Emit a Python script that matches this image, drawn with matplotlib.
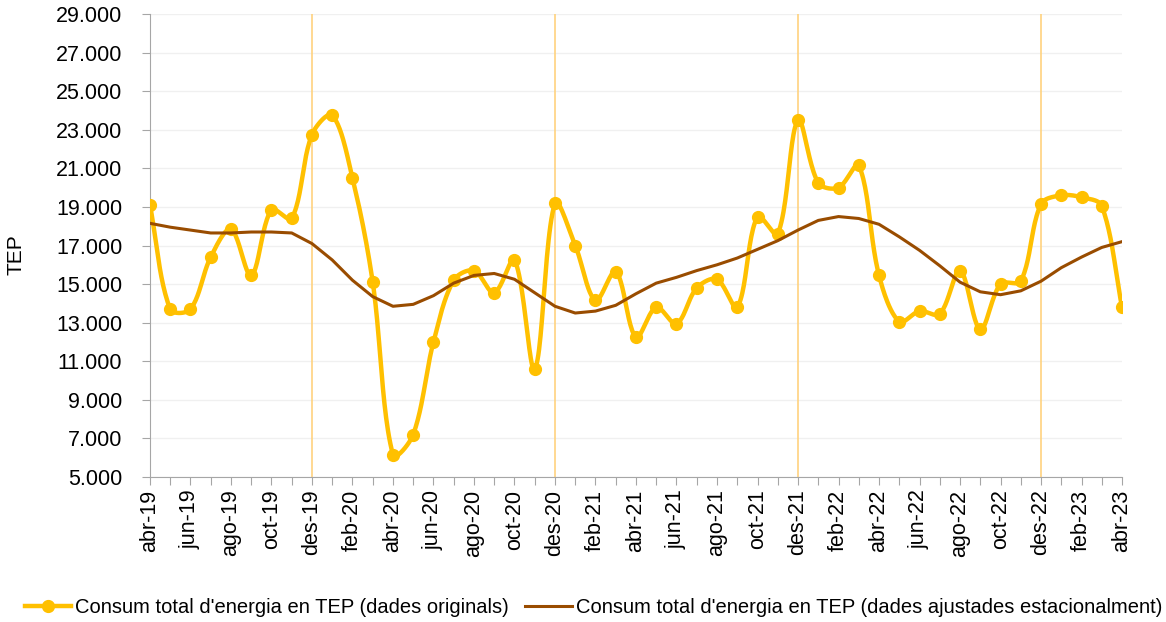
import numpy as np
import matplotlib
matplotlib.use("Agg")
import matplotlib.pyplot as plt
from matplotlib.ticker import FuncFormatter

plt.rcParams['font.family'] = ['Liberation Sans', 'DejaVu Sans']

# month labels abr-19 .. abr-23
mesos = ['gen', 'feb', 'mar', 'abr', 'mai', 'jun', 'jul', 'ago', 'set', 'oct', 'nov', 'des']
labels = []
for k in range(49):
    m = (3 + k) % 12
    y = 19 + (3 + k) // 12
    labels.append(f"{mesos[m]}-{y}")

originals = [19100, 13700, 13700, 16400, 17850, 15450, 18850, 18400, 22750, 23750,
             20500, 15100, 6150, 7200, 12000, 15200, 15700, 14550, 16250, 10600,
             19200, 17000, 14150, 15650, 12250, 13800, 12950, 14800, 15250, 13800,
             18500, 17600, 23500, 20250, 20000, 21150, 15450, 13050, 13600, 13450,
             15700, 12650, 15000, 15150, 19150, 19600, 19500, 19050, 13800]

ajustades = [18150, 17950, 17800, 17650, 17650, 17700, 17700, 17650, 17100, 16250,
             15200, 14350, 13850, 13950, 14400, 15050, 15450, 15550, 15250, 14550,
             13850, 13500, 13600, 13900, 14500, 15050, 15350, 15700, 16000, 16350,
             16800, 17250, 17800, 18300, 18500, 18400, 18100, 17450, 16750, 15950,
             15100, 14600, 14450, 14650, 15150, 15850, 16400, 16900, 17200]

yellow = '#FFC000'
brown = '#994C00'


def smooth(xs, ys, sx=20.25, sy=463 / 24000, n=24):
    # Bezier smoothing with control points weighted by screen-space segment length
    xs = np.asarray(xs, float)
    ys = np.asarray(ys, float)
    px = np.concatenate([[xs[0]], xs, [xs[-1]]])
    py = np.concatenate([[ys[0]], ys, [ys[-1]]])
    d = np.hypot(np.diff(px) * sx, np.diff(py) * sy)
    d[d == 0] = 1e-9
    outx, outy = [], []
    t = np.linspace(0, 1, n, endpoint=False)
    k = 1 / 3
    for i in range(1, len(px) - 2):
        d01, d12, d23 = d[i - 1], d[i], d[i + 1]
        f1 = k * d12 / (d01 + d12)
        f2 = k * d12 / (d12 + d23)
        c1x = px[i] + (px[i + 1] - px[i - 1]) * f1
        c1y = py[i] + (py[i + 1] - py[i - 1]) * f1
        c2x = px[i + 1] - (px[i + 2] - px[i]) * f2
        c2y = py[i + 1] - (py[i + 2] - py[i]) * f2
        b0 = (1 - t) ** 3
        b1 = 3 * (1 - t) ** 2 * t
        b2 = 3 * (1 - t) * t ** 2
        b3 = t ** 3
        outx.extend(b0 * px[i] + b1 * c1x + b2 * c2x + b3 * px[i + 1])
        outy.extend(b0 * py[i] + b1 * c1y + b2 * c2y + b3 * py[i + 1])
    outx.append(xs[-1])
    outy.append(ys[-1])
    return outx, outy


x = np.arange(len(labels))

fig = plt.figure(figsize=(11.66, 6.22), dpi=100)
ax = fig.add_axes([0.1286, 0.2331, 0.8337, 0.7444])

for i, lab in enumerate(labels):
    if lab.startswith('des'):
        ax.axvline(i, color='#FFD27F', lw=1.2, zorder=1)

sx_, sy_ = smooth(x, originals)
ax.plot(sx_, sy_, color=yellow, lw=3.2, zorder=3, solid_capstyle='round')
ax.plot(x, originals, 'o', color=yellow, ms=8.5, zorder=4)
ax.plot(x, ajustades, color=brown, lw=2.2, zorder=5)

# legend handles
h1, = ax.plot([], [], color=yellow, lw=3.2, marker='o', ms=8.5)
h2, = ax.plot([], [], color=brown, lw=2.2)
fig.legend([h1, h2],
           ["Consum total d'energia en TEP (dades originals)",
            "Consum total d'energia en TEP (dades ajustades estacionalment)"],
           loc='center', bbox_to_anchor=(0.509, 0.024), ncol=2, frameon=False,
           fontsize=14.5, handlelength=2.3, handletextpad=0.2, columnspacing=0.8)

ax.set_xlim(0, len(labels) - 1)
ax.set_ylim(5000, 29000)
ax.set_yticks(np.arange(5000, 29001, 2000))
ax.yaxis.set_major_formatter(FuncFormatter(lambda v, p: f"{int(v):,}".replace(',', '.')))
ax.set_xticks(x)
ax.set_xticklabels([lab if i % 2 == 0 else '' for i, lab in enumerate(labels)], rotation=90)
ax.tick_params(axis='both', labelsize=15.5, color='#A6A6A6', length=6)
ax.tick_params(axis='x', pad=3)
ax.tick_params(axis='y', pad=14)
ax.grid(axis='y', color='#F0F0F0', lw=1)
ax.set_axisbelow(True)
for s in ['top', 'right']:
    ax.spines[s].set_visible(False)
ax.spines['left'].set_color('#A6A6A6')
ax.spines['bottom'].set_color('#A6A6A6')
ax.set_ylabel('TEP', fontsize=15)
ax.yaxis.set_label_coords(-0.128, 0.48)

fig.savefig('out.png', dpi=100)
